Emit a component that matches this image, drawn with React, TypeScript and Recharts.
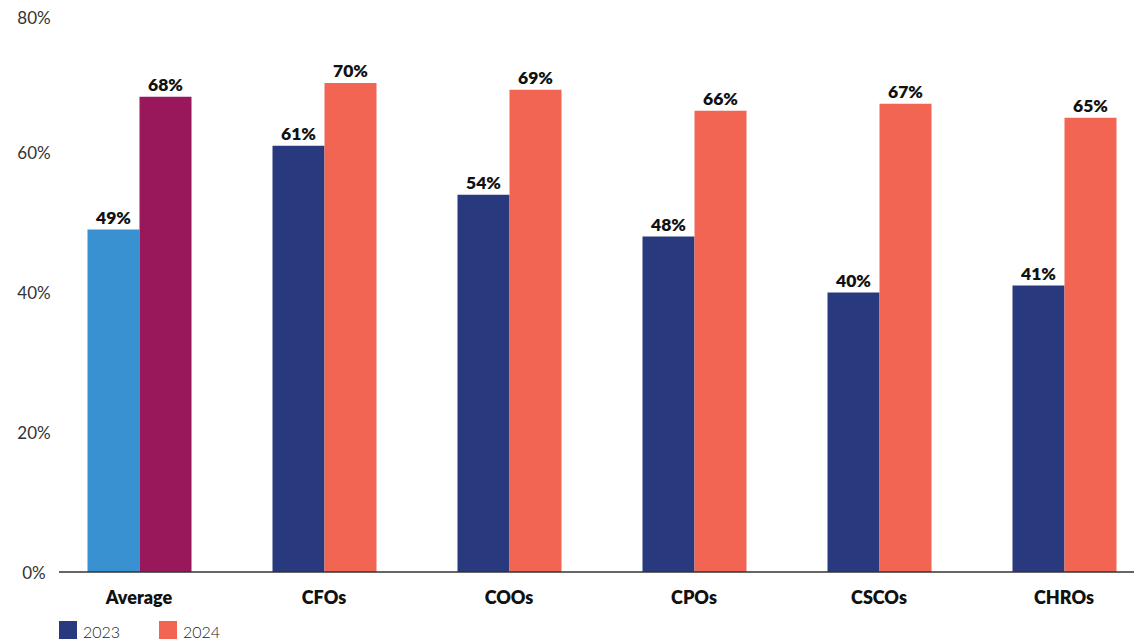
import React from 'react'
import { BarChart, Bar, XAxis, YAxis, LabelList, Cell } from 'recharts'

const roles = ['Average', 'CFOs', 'COOs', 'CPOs', 'CSCOs', 'CHROs']
const values2023 = [49, 61, 54, 48, 40, 41]
const values2024 = [68, 70, 69, 66, 67, 65]
const yTicks = [0, 20, 40, 60, 80]

const NAVY = '#283a7d'
const CORAL = '#f26552'
const AVG_2023 = '#3a91d1'
const AVG_2024 = '#98185b'
const FONT = 'Lato, "Open Sans", sans-serif'

const data = roles.map((role, i) => ({
  role,
  y2023: values2023[i],
  y2024: values2024[i],
}))

// percent ticks, centred in the left gutter; the top one is kept clear of the edge
const YTick = (props: any) => {
  const { x, y, payload } = props
  return (
    <text
      x={x - 17}
      y={Math.max(y, 17)}
      textAnchor="middle"
      dominantBaseline="central"
      fontFamily={FONT}
      fontSize={17}
      fontWeight={400}
      fill="#333"
    >
      {`${payload.value}%`}
    </text>
  )
}

const legendItems = [
  { name: '2023', color: NAVY },
  { name: '2024', color: CORAL },
]

const labelStyle = { fontFamily: FONT, fontSize: 17.5, fontWeight: 800, fill: '#111' }

export default function App() {
  return (
    <div style={{ position: 'absolute', left: 0, top: 0, width: 1134, height: 640, background: '#fff', overflow: 'hidden' }}>
      <BarChart
        width={1134}
        height={640}
        data={data}
        margin={{ top: 13, right: 0, bottom: 0, left: 0 }}
        barGap={0}
        barSize={52}
      >
        <XAxis
          dataKey="role"
          height={68}
          tickLine={false}
          tickSize={0}
          tickMargin={19}
          padding={{ left: -12.5, right: -22.5 }}
          axisLine={{ stroke: '#333', strokeWidth: 1.5 }}
          tick={{ fontFamily: FONT, fontSize: 18, fontWeight: 800, fill: '#111' }}
          interval={0}
        />
        <YAxis
          width={59}
          domain={[0, 80]}
          ticks={yTicks}
          axisLine={false}
          tickLine={false}
          tick={<YTick />}
        />
        <Bar dataKey="y2023" fill={NAVY} isAnimationActive={false}>
          {data.map((d, i) => (
            <Cell key={d.role} fill={i === 0 ? AVG_2023 : NAVY} />
          ))}
          <LabelList
            dataKey="y2023"
            position="top"
            offset={6}
            formatter={(v: any) => `${v}%`}
            style={labelStyle}
          />
        </Bar>
        <Bar dataKey="y2024" fill={CORAL} isAnimationActive={false}>
          {data.map((d, i) => (
            <Cell key={d.role} fill={i === 0 ? AVG_2024 : CORAL} />
          ))}
          <LabelList
            dataKey="y2024"
            position="top"
            offset={6}
            formatter={(v: any) => `${v}%`}
            style={labelStyle}
          />
        </Bar>
      </BarChart>
      <div style={{ position: 'absolute', left: 59, top: 621, display: 'flex', fontFamily: FONT, fontSize: 16, fontWeight: 300, color: '#222' }}>
        {legendItems.map(item => (
          <div key={item.name} style={{ display: 'flex', alignItems: 'flex-start', width: 100 }}>
            <span style={{ width: 18, height: 18, background: item.color, marginRight: 6 }} />
            <span style={{ lineHeight: '22px' }}>{item.name}</span>
          </div>
        ))}
      </div>
    </div>
  )
}
